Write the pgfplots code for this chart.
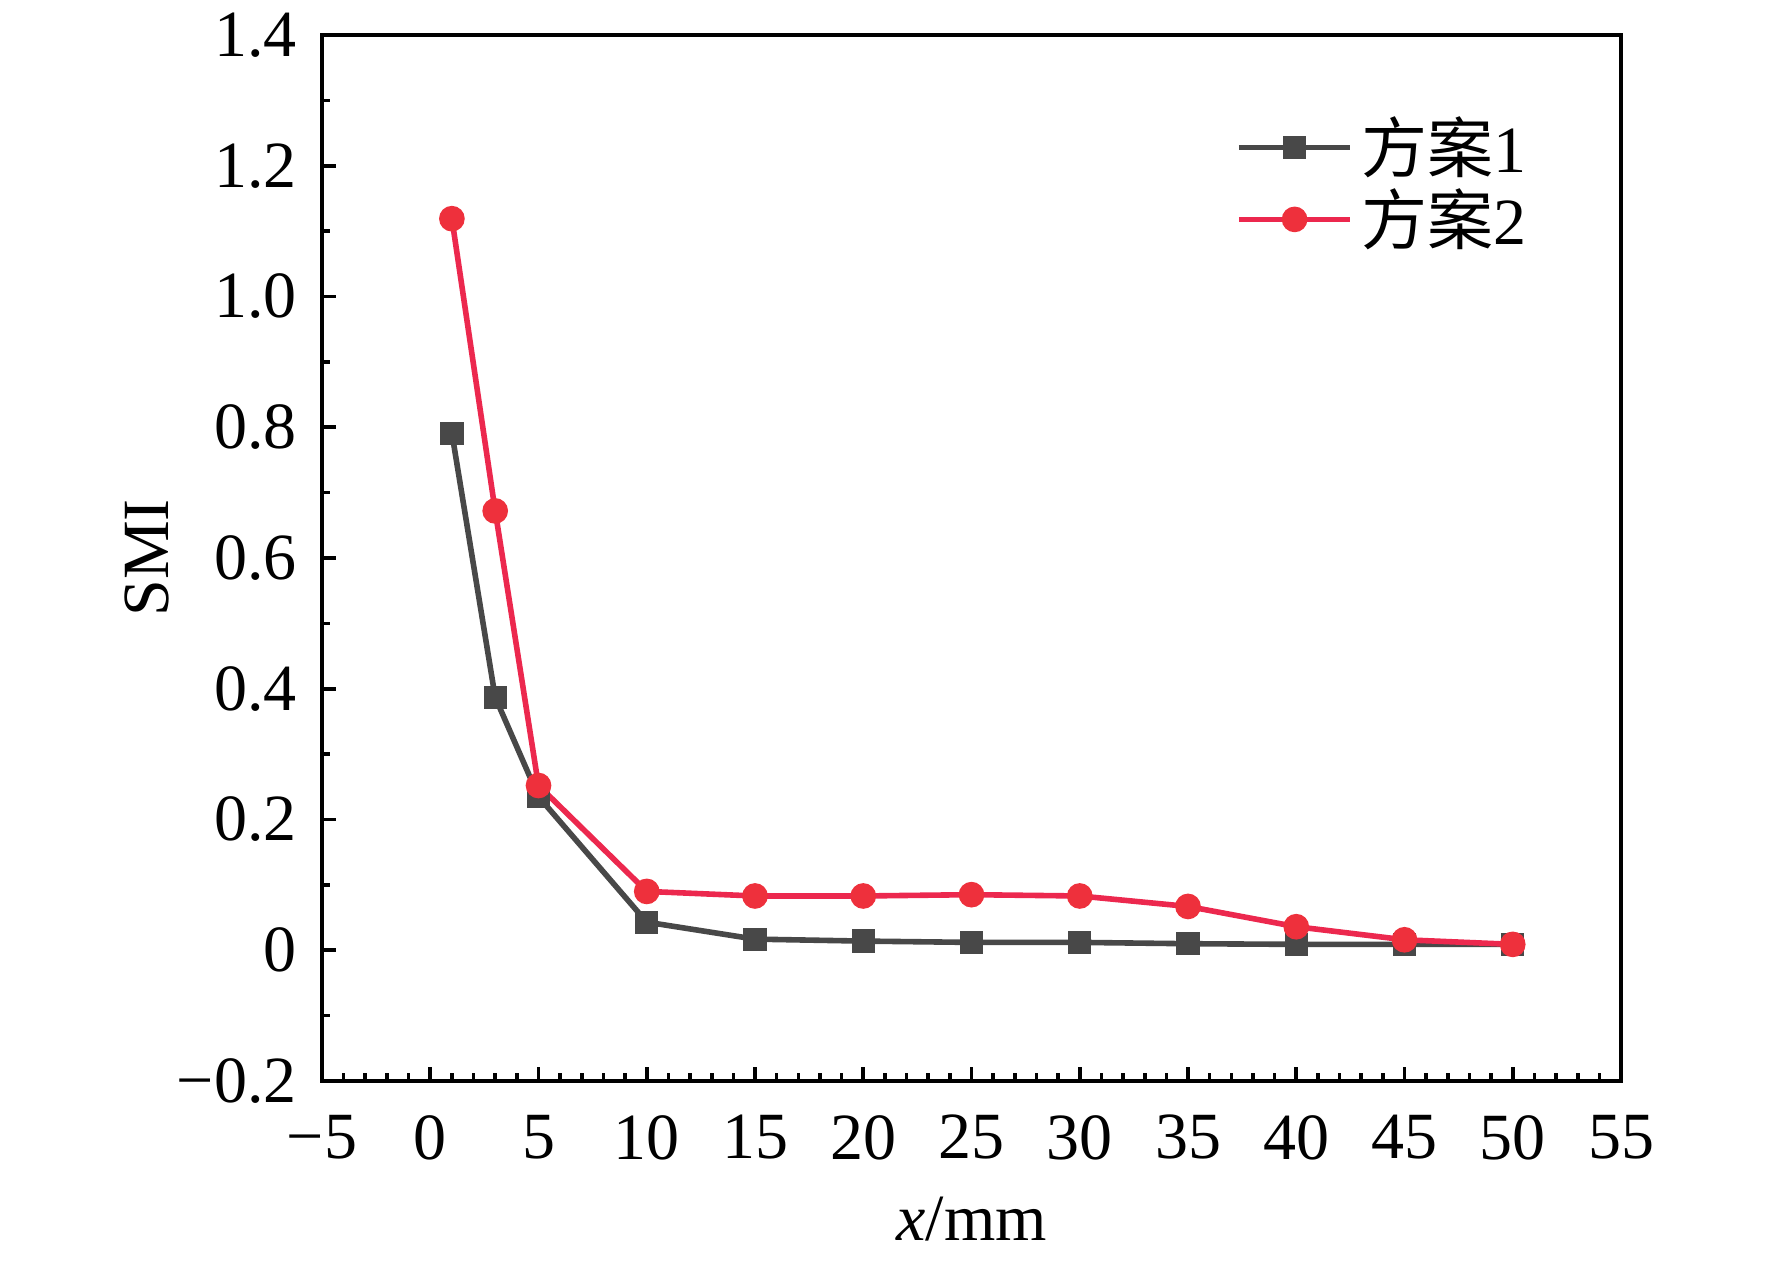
\documentclass[border=0pt]{standalone}
\usepackage{pgfplots}
\pgfplotsset{compat=1.18}
\usepackage{fontspec}
\setmainfont{Liberation Serif}
\newfontfamily\cjk{Noto Sans CJK SC}
\definecolor{sgray}{RGB}{72,72,72}
\definecolor{sred}{RGB}{236,40,78}
\definecolor{sredm}{RGB}{238,48,60}
\begin{document}
\begin{tikzpicture}
\begin{axis}[
  scale only axis, width=324.75pt, height=261.5pt,
  xmin=-5, xmax=55, ymin=-0.2, ymax=1.4,
  xtick={-5,0,5,10,15,20,25,30,35,40,45,50,55},
  xticklabels={\textminus5,0,5,10,15,20,25,30,35,40,45,50,55},
  minor x tick num=4,
  ytick={-0.2,0,0.2,0.4,0.6,0.8,1.0,1.2,1.4},
  yticklabels={\textminus0.2,0,0.2,0.4,0.6,0.8,1.0,1.2,1.4},
  minor y tick num=1,
  tick align=inside, xtick pos=bottom, ytick pos=left,
  major tick length=3.5pt, minor tick length=2pt,
  axis line style={line width=1.1pt},
  every tick/.style={black, line width=0.9pt},
  tick label style={font=\fontsize{16.5}{19}\selectfont},
  xticklabel style={yshift=-5pt},
  yticklabel style={xshift=-2.8pt},
  label style={font=\fontsize{16.5}{19}\selectfont},
  xlabel={\textit{x}/mm}, ylabel={SMI},
  xlabel style={yshift=-2.5pt},
  ylabel style={yshift=-4.8pt},
  legend cell align=left,
  legend style={at={(rel axis cs:0.943,0.938)}, anchor=north east, draw=none, fill=none,
    font=\fontsize{16.5}{19}\selectfont, row sep=-1.5pt},
  legend image code/.code={\draw[mark repeat=2,mark phase=2] plot coordinates {(0cm,0cm) (0.49cm,0cm) (0.98cm,0cm)};},
]
\addplot[sgray, line width=1.4pt, mark=square*, mark size=2.2pt, mark options={fill=sgray, draw=sgray, solid}]
coordinates {(1,0.791) (3,0.387) (5,0.235) (10,0.043) (15,0.017) (20,0.014) (25,0.012) (30,0.012) (35,0.010) (40,0.009) (45,0.009) (50,0.009)};
\addlegendentry{{\cjk 方案}1}
\addplot[sred, line width=1.4pt, mark=*, mark size=2.5pt, mark options={fill=sredm, draw=sredm, solid}]
coordinates {(1,1.119) (3,0.672) (5,0.252) (10,0.090) (15,0.083) (20,0.083) (25,0.085) (30,0.083) (35,0.067) (40,0.036) (45,0.016) (50,0.009)};
\addlegendentry{{\cjk 方案}2}
\end{axis}
\pgfresetboundingbox
\path ([shift={(-80.5pt,-44.75pt)}]current axis.south west) rectangle ([shift={(37.75pt,8.75pt)}]current axis.north east);
\end{tikzpicture}
\end{document}
